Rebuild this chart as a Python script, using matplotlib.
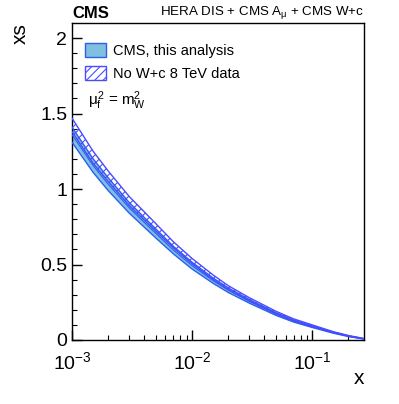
import numpy as np
import matplotlib
matplotlib.use("Agg")
import matplotlib.pyplot as plt
from matplotlib.patches import Patch

plt.rcParams['font.family'] = ['Liberation Sans', 'DejaVu Sans']
plt.rcParams['mathtext.fontset'] = 'custom'
plt.rcParams['mathtext.rm'] = 'Liberation Sans'
plt.rcParams['mathtext.it'] = 'Liberation Sans'
plt.rcParams['hatch.linewidth'] = 0.8

# x grid and band edges
x = [0.001, 0.0015, 0.002, 0.003, 0.005, 0.007, 0.01, 0.015, 0.02, 0.03,
     0.05, 0.07, 0.1, 0.15, 0.2, 0.27]
nowc_hi = [1.47, 1.25, 1.12, 0.95, 0.77, 0.65, 0.54, 0.43, 0.36, 0.28,
           0.19, 0.14, 0.10, 0.055, 0.03, 0.01]
nowc_lo = [1.38, 1.17, 1.05, 0.89, 0.72, 0.61, 0.505, 0.40, 0.335, 0.26,
           0.175, 0.128, 0.09, 0.05, 0.026, 0.008]
cms_hi = [1.41, 1.20, 1.075, 0.91, 0.735, 0.62, 0.515, 0.41, 0.345, 0.268,
          0.18, 0.132, 0.093, 0.051, 0.027, 0.008]
cms_lo = [1.31, 1.11, 0.99, 0.84, 0.675, 0.57, 0.47, 0.375, 0.315, 0.244,
          0.163, 0.119, 0.083, 0.045, 0.023, 0.006]
cms_mid = [(a + b) / 2 for a, b in zip(cms_hi, cms_lo)]

fig = plt.figure(figsize=(3.99, 4.04), dpi=100)
ax = fig.add_axes([72 / 399, 1 - 340 / 404, 292 / 399, 317 / 404])

blue_fill = '#7fbfe0'
blue_line = '#2a5ff0'
hatch_col = '#4a4aff'

ax.fill_between(x, cms_lo, cms_hi, facecolor=blue_fill, edgecolor='none', zorder=2)
ax.plot(x, cms_hi, color=blue_line, lw=1.0, zorder=3)
ax.plot(x, cms_lo, color=blue_line, lw=1.0, zorder=3)
ax.plot(x, cms_mid, color=blue_line, lw=0.8, zorder=3)
ax.fill_between(x, nowc_lo, nowc_hi, facecolor='none', edgecolor=hatch_col,
                hatch='////', linewidth=0, zorder=4)
ax.plot(x, nowc_hi, color=hatch_col, lw=1.0, zorder=4)
ax.plot(x, nowc_lo, color=hatch_col, lw=1.0, zorder=4)

ax.set_xscale('log')
ax.set_xlim(1e-3, 0.27)
ax.set_ylim(0, 2.1)
ax.set_yticks([0, 0.5, 1, 1.5, 2])
ax.set_yticklabels(['0', '0.5', '1', '1.5', '2'])
ax.set_yticks(np.arange(0, 2.1, 0.1), minor=True)
ax.tick_params(axis='both', which='major', direction='in', labelsize=14,
               length=7, width=1, top=False, right=False)
ax.tick_params(axis='both', which='minor', direction='in', length=3.5,
               width=0.8, top=False, right=False)
ax.tick_params(axis='x', which='major', pad=8)
for s in ax.spines.values():
    s.set_linewidth(1.0)

ax.set_ylabel('xs', fontsize=15, loc='top')
ax.yaxis.set_label_coords(-0.145, 1.0)
ax.set_xlabel('x', fontsize=15, loc='right')
ax.xaxis.set_label_coords(1.0, -0.09)

handles = [Patch(facecolor=blue_fill, edgecolor=blue_line, lw=1.0),
           Patch(facecolor='none', edgecolor=hatch_col, hatch='////', lw=1.0)]
ax.legend(handles, ['CMS, this analysis', 'No W+c 8 TeV data'],
          loc='upper left', bbox_to_anchor=(0.01, 0.97), frameon=False,
          fontsize=10.5, handlelength=1.4, handleheight=1.1,
          handletextpad=0.5, labelspacing=0.55, borderaxespad=0.3)

ax.text(0.055, 0.755, r'$\mu_{f}^{2}$ = m$_{W}^{2}$', transform=ax.transAxes,
        fontsize=11, va='center', ha='left')

fig.text(72 / 399, 1 - 13 / 404, 'CMS', fontsize=12, fontweight='bold',
         ha='left', va='center')
fig.text(364 / 399, 1 - 13 / 404, r'HERA DIS + CMS A$_{\mu}$ + CMS W+c',
         fontsize=9.6, ha='right', va='center')

fig.savefig('out.png', dpi=100)
